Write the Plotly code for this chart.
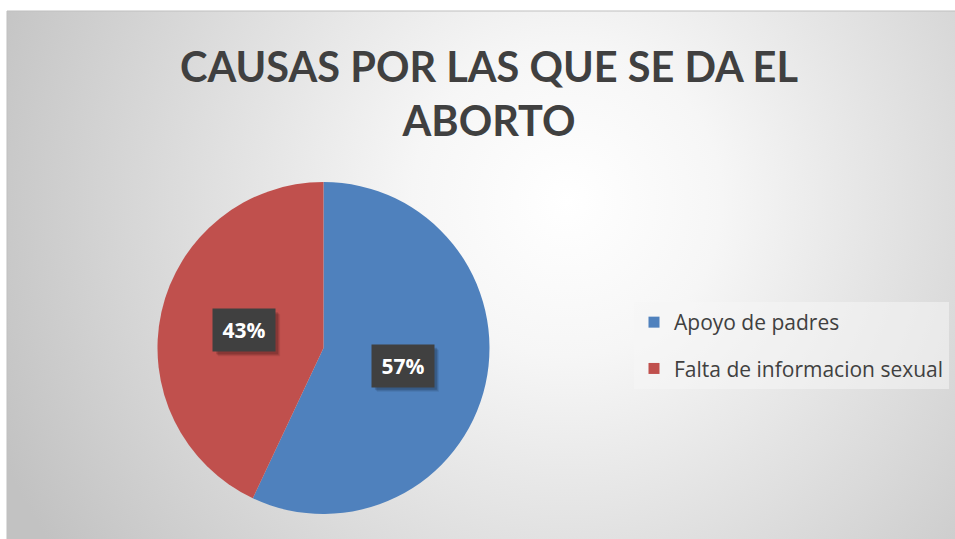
import math
import urllib.parse
import plotly.graph_objects as go

categories = ["Apoyo de padres", "Falta de informacion sexual"]
values = [57, 43]
colors = ["#4f81bd", "#c0504d"]
title_text = "CAUSAS POR LAS QUE SE DA EL<br>ABORTO"

W, H = 955, 539
# pie geometry (pixels)
cx, cy, R = 323.5, 348, 166
dom_x = [(cx - R) / W, (cx + R) / W]
dom_y = [1 - (cy + R) / H, 1 - (cy - R) / H]

fig = go.Figure()
fig.add_trace(go.Pie(
    labels=categories, values=values, sort=False, direction="clockwise",
    rotation=0, marker=dict(colors=colors, line=dict(width=0)),
    textinfo="none", hoverinfo="label+percent",
    domain=dict(x=dom_x, y=dom_y), showlegend=False,
))
# legend entries (one per category)
for name, col in zip(categories, colors):
    fig.add_trace(go.Scatter(
        x=[None], y=[None], mode="markers", name=name, legendgroup=name,
        marker=dict(symbol="square", size=11, color=col), hoverinfo="skip",
    ))

# background gradient
svg = (
    "<svg xmlns='http://www.w3.org/2000/svg' width='948' height='528' viewBox='0 0 948 528' preserveAspectRatio='none'>"
    "<defs><radialGradient id='g' gradientUnits='userSpaceOnUse' cx='560' cy='190' r='620'>"
    "<stop offset='0' stop-color='#ffffff'/><stop offset='0.25' stop-color='#f6f6f6'/>"
    "<stop offset='1' stop-color='#c2c2c2'/></radialGradient></defs>"
    "<rect width='948' height='528' fill='url(#g)'/></svg>"
)
src = "data:image/svg+xml;charset=utf-8," + urllib.parse.quote(svg)
fig.add_layout_image(dict(
    source=src, xref="paper", yref="paper", x=7 / W, y=1 - 11 / H,
    sizex=(W - 7) / W, sizey=(H - 11) / H, xanchor="left", yanchor="top",
    sizing="stretch", layer="below",
))
fig.add_shape(type="rect", xref="paper", yref="paper", x0=7 / W, x1=1.01,
              y0=-0.01, y1=1 - 11 / H, line=dict(color="#bfbfbf", width=1),
              fillcolor="rgba(0,0,0,0)", layer="below")

# data labels
BW, BH, PAD = 46, 26, 8
total = sum(values)
start = 0.0
for v in values:
    frac = v / total
    mid = (start + frac / 2) * 2 * math.pi
    start += frac
    r = 0.49 * R
    px = cx + r * math.sin(mid)
    py = cy - r * math.cos(mid)
    txt = f"<b>{round(frac * 100)}%</b>"
    hw, hh = BW / 2 + PAD, BH / 2 + PAD
    # soft shadow
    for k, a in ((5, 0.08), (4, 0.1), (3, 0.14)):
        fig.add_shape(type="rect", xref="paper", yref="paper",
                      x0=(px - hw + k) / W, x1=(px + hw + k) / W,
                      y0=1 - (py + hh + k) / H, y1=1 - (py - hh + k) / H,
                      line=dict(width=0), fillcolor=f"rgba(0,0,0,{a})", layer="above")
    fig.add_annotation(x=px / W, y=1 - py / H, text=txt, xref="paper", yref="paper",
                       showarrow=False, xanchor="center", yanchor="middle",
                       width=BW, height=BH, borderpad=PAD,
                       font=dict(family="Open Sans", size=21, color="white"),
                       bgcolor="#404040")

fig.update_layout(
    width=W, height=H, margin=dict(l=0, r=0, t=0, b=0),
    paper_bgcolor="white", plot_bgcolor="rgba(0,0,0,0)",
    xaxis=dict(visible=False), yaxis=dict(visible=False),
    title=dict(text=f"<b>{title_text}</b>", x=489 / W, xanchor="center",
               y=1 - 82 / H, yanchor="top",
               font=dict(family="Lato", size=41.5, color="#404040")),
    legend=dict(x=634 / W, y=1 - 302 / H, xanchor="left", yanchor="top",
                bgcolor="rgba(245,245,245,0.55)", borderwidth=0,
                tracegroupgap=16,
                font=dict(family="Open Sans", size=21, color="#404040")),
)
fig.write_html("out.html", config={"displayModeBar": False},
               post_script="document.body.style.margin='0';")
